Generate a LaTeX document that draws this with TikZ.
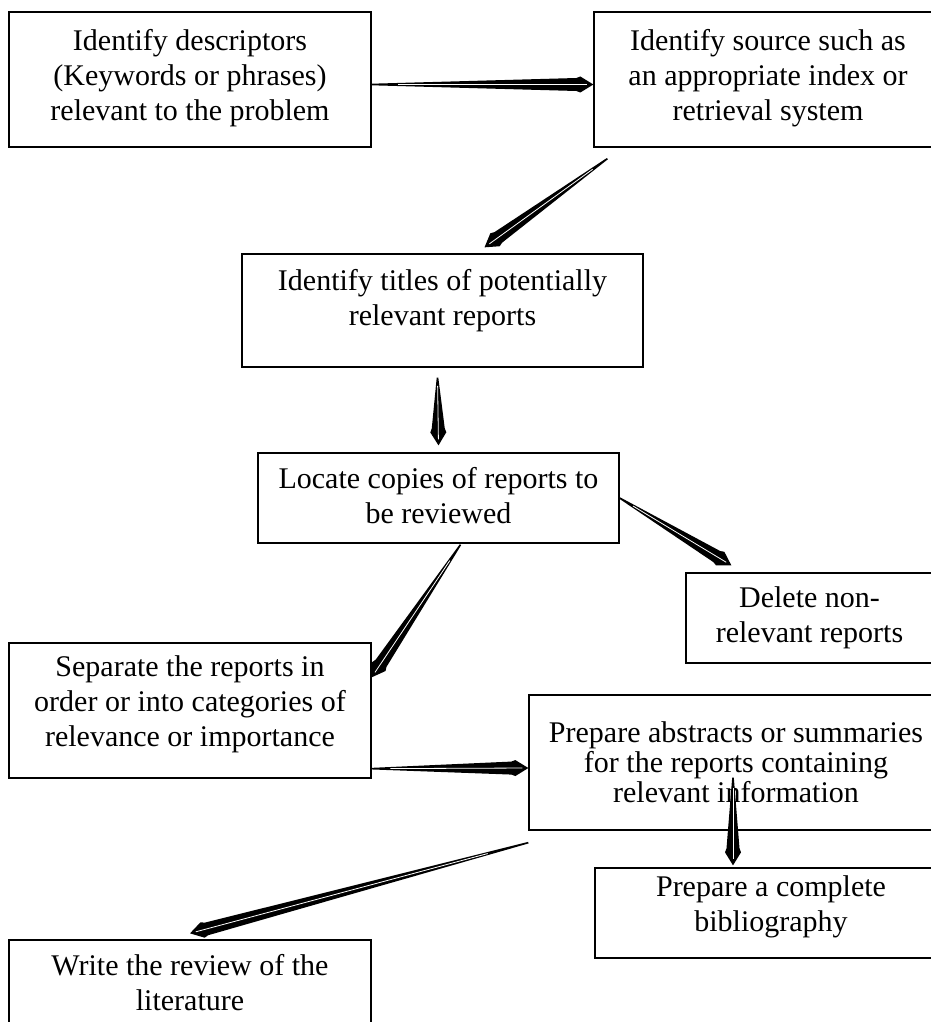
\documentclass[tikz,border=0pt]{standalone}
\usepackage{fontspec}
\setmainfont{Liberation Serif}
\usetikzlibrary{calc}

\tikzset{
  box/.style={draw, line width=1.3pt, rectangle, inner sep=0pt},
  txt/.style={align=center, inner sep=0pt, font=\fontsize{30}{35}\selectfont},
}

% tapered dart from #1 to #2
\newcommand{\dartarrow}[2]{%
  \fill[x=1pt,y=1pt] let \p1=#1, \p2=#2, \n1={atan2(\y2-\y1,\x2-\x1)}, \n2={veclen(\x2-\x1,\y2-\y1)} in
    [shift={(\p1)}, rotate=\n1] (0,0.8) -- ({\n2-17},6.5) -- ({\n2-13},8) -- (\n2,0)
    -- ({\n2-13},-8) -- ({\n2-17},-6.5) -- (0,-0.8) -- cycle;
  \draw[white, line width=0.8pt, x=1pt, y=1pt] let \p1=#1, \p2=#2, \n1={atan2(\y2-\y1,\x2-\x1)}, \n2={veclen(\x2-\x1,\y2-\y1)} in
    [shift={(\p1)}, rotate=\n1] ({0.12*\n2},0) -- ({\n2-6},0);
}

\begin{document}
\begin{tikzpicture}[x=1pt, y=-1pt]
  \useasboundingbox (0,0) rectangle (930,1022);
  %Boxes
  \node[box, minimum width=362, minimum height=135] (b1) at (190,79.5) {};
  \node[box, minimum width=348, minimum height=135] (b2) at (768,79.5) {};
  \node[box, minimum width=401, minimum height=113] (b3) at (442.5,310.5) {};
  \node[box, minimum width=361, minimum height=90] (b4) at (438.5,498) {};
  \node[box, minimum width=247, minimum height=90] (b5) at (809.5,618) {};
  \node[box, minimum width=362, minimum height=135] (b6) at (190,710.5) {};
  \node[box, minimum width=414, minimum height=135] (b7) at (736,762.5) {};
  \node[box, minimum width=352, minimum height=90] (b8) at (771,913) {};
  \node[box, minimum width=362, minimum height=90] (b9) at (190,985) {};

  %Texts
  \node[txt] (t1) at ([yshift=1pt]b1.center) {Identify descriptors\\(Keywords or phrases)\\relevant to the problem};
  \node[txt] (t2) at ([yshift=1pt]b2.center) {Identify source such as\\an appropriate index or\\retrieval system};
  \node[txt] (t3) at ([yshift=10pt]b3.center) {Identify titles of potentially\\relevant reports};
  \node[txt] (t4) at ([yshift=2pt]b4.center) {Locate copies of reports to\\be reviewed};
  \node[txt] (t5) at (b5.center) {Delete non-\\relevant reports};
  \node[txt] (t6) at ([yshift=6.5pt]b6.center) {Separate the reports in\\order or into categories of\\relevance or importance};
  \node[txt, font=\fontsize{30}{30}\selectfont] (t7) at (b7.center) {Prepare abstracts or summaries\\for the reports containing\\relevant information};
  \node[txt] (t8) at ([yshift=6pt]b8.center) {Prepare a complete\\bibliography};
  \node[txt] (t9) at ([yshift=2pt]b9.center) {Write the review of the\\literature};

  %Arrows
  \dartarrow{([yshift=-5pt]b1.east)}{([yshift=-5pt]b2.west)}
  \dartarrow{([shift={(14pt,-11pt)}]b2.south west)}{([shift={(42pt,6pt)}]b3.north)}
  \dartarrow{([shift={(-5pt,-10pt)}]b3.south)}{([yshift=7pt]b4.north)}
  \dartarrow{([shift={(22pt,-1pt)}]b4.south)}{([yshift=-35pt]b6.north east)}
  \dartarrow{(b4.east)}{([shift={(46pt,7pt)}]b5.north west)}
  \dartarrow{([yshift=10pt]b6.south east)}{([yshift=-5.5pt]b7.west)}
  \dartarrow{([yshift=-12pt]b7.south west)}{([yshift=6pt]b9.north)}
  \dartarrow{([shift={(-3pt,-15pt)}]b7.center)}{([shift={(-38pt,2pt)}]b8.north)}
\end{tikzpicture}
\end{document}
